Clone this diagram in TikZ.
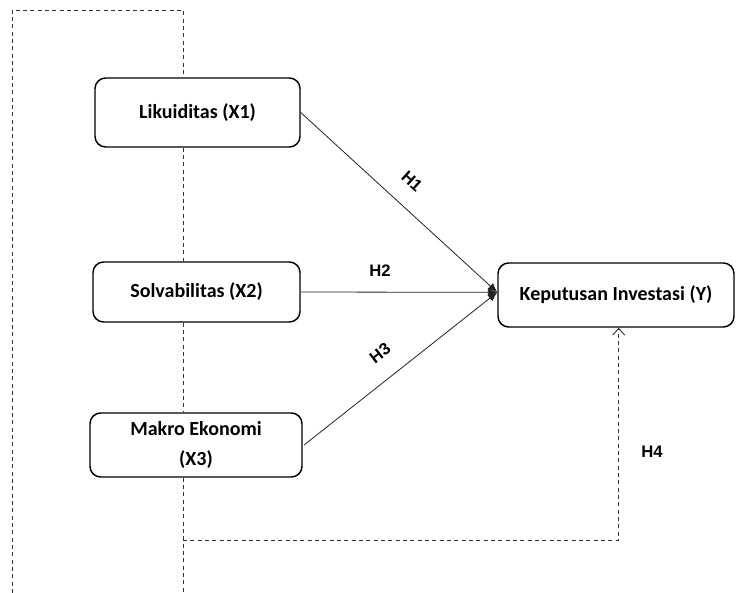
\documentclass[tikz,border=0pt]{standalone}
\usepackage{fontspec}
\setmainfont{Carlito}
\newfontfamily\hfont{Liberation Sans}
\usetikzlibrary{arrows.meta}
\definecolor{linecol}{HTML}{222222}
\definecolor{dashcol}{HTML}{333333}

\begin{document}
\begin{tikzpicture}[x=0.75pt, y=-0.75pt,
  varbox/.style={draw=black, line width=1.1pt, rounded corners=8pt, fill=white,
    align=center, font=\fontsize{15}{22.5}\selectfont\bfseries, inner sep=0pt},
  hyplink/.style={linecol, line width=0.6pt, -{Latex[length=7pt,width=6pt]}},
  spine/.style={dashcol, line width=0.7pt, dash pattern=on 3pt off 2.5pt},
  hyplabel/.style={font=\hfont\bfseries\fontsize{12.5}{14}\selectfont, inner sep=1pt}]

  \useasboundingbox (0,0) rectangle (736,593);

  % --- Variables ---
  \node[varbox, minimum width=153.75pt, minimum height=51.75pt] (x1) at (197.5,112.5) {Likuiditas (X1)};
  \node[varbox, minimum width=155.25pt, minimum height=45pt] (x2) at (196.5,292) {Solvabilitas (X2)};
  \node[varbox, minimum width=159pt, minimum height=48pt] (x3) at (196,445) {Makro Ekonomi\\(X3)};
  \node[varbox, minimum width=177pt, minimum height=48pt] (y) at (616,295) {Keputusan Investasi (Y)};

  % --- Dashed frame ---
  \coordinate (top) at (183,10);
  \coordinate (topleft) at (12,10);
  \coordinate (botleft) at (12,593);
  \coordinate (bot) at (183,593);
  \coordinate (h4) at (183,540);

  \draw[spine] (botleft) -- (topleft) -- (top) -- (top |- x1.north);
  \draw[spine] (x1.south -| top) -- (x2.north -| top);
  \draw[spine] (x2.south -| top) -- (x3.north -| top);
  \draw[spine] (x3.south -| top) -- (bot);

  % H4 path
  \draw[spine, -{Straight Barb[length=5pt,width=9pt]}]
    (h4) -| ([xshift=2]y.south);

  % --- Hypotheses ---
  \draw[hyplink] (x1.east) -- ([yshift=2]y.west);
  \draw[hyplink] (x2.east) -- ([yshift=2]y.west);
  \draw[hyplink] ([xshift=1]x3.east) -- ([yshift=2]y.west);

  % Labels
  \node[hyplabel, rotate=-42] (h1lbl) at (412,181) {H1};
  \node[hyplabel] (h2lbl) at (380,271) {H2};
  \node[hyplabel, rotate=38] (h3lbl) at (380,353) {H3};
  \node[hyplabel] (h4lbl) at (652,452) {H4};

\end{tikzpicture}
\end{document}
